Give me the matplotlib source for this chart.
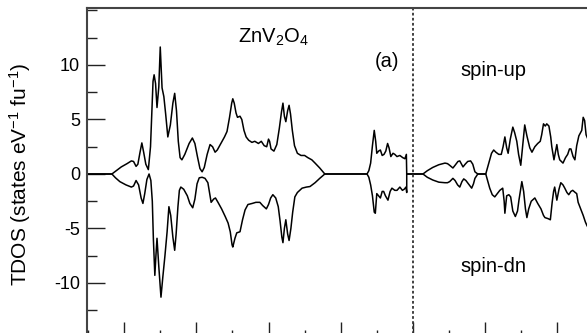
import matplotlib
matplotlib.use("Agg")
import matplotlib.pyplot as plt
from matplotlib.ticker import MultipleLocator

# Total DOS of ZnV2O4: (energy in eV relative to E_F, states/eV/f.u.)
spin_up = [
    (-9.03, 0.0), (-8.34, 0.0), (-8.22, 0.3), (-8.08, 0.65), (-7.92, 0.95),
    (-7.80, 1.2), (-7.74, 1.15), (-7.67, 0.7), (-7.62, 0.9), (-7.56, 2.0),
    (-7.51, 2.85), (-7.46, 2.0), (-7.40, 0.9), (-7.33, 0.4), (-7.27, 2.5),
    (-7.23, 6.0), (-7.20, 8.5), (-7.17, 9.1), (-7.13, 8.3), (-7.09, 6.1),
    (-7.04, 8.0), (-7.00, 11.65), (-6.97, 9.5), (-6.95, 7.9), (-6.90, 7.1),
    (-6.85, 5.5), (-6.79, 3.4), (-6.72, 4.5), (-6.65, 6.5), (-6.60, 7.4),
    (-6.55, 5.8), (-6.50, 3.0), (-6.45, 1.5), (-6.40, 1.3), (-6.32, 1.8),
    (-6.20, 2.8), (-6.11, 3.3), (-6.04, 2.8), (-5.97, 1.6), (-5.90, 0.5),
    (-5.84, 0.2), (-5.78, 0.6), (-5.70, 1.8), (-5.62, 2.7), (-5.55, 2.5),
    (-5.48, 2.0), (-5.42, 2.2), (-5.32, 2.8), (-5.22, 3.4), (-5.15, 3.9),
    (-5.08, 5.2), (-5.02, 6.5), (-4.99, 6.9), (-4.95, 6.5), (-4.90, 5.6),
    (-4.86, 5.2), (-4.79, 5.3), (-4.74, 5.0), (-4.68, 4.0), (-4.62, 3.4),
    (-4.55, 3.1), (-4.46, 2.9), (-4.38, 3.0), (-4.28, 2.8), (-4.20, 3.0),
    (-4.12, 2.6), (-4.05, 2.5), (-4.00, 3.2), (-3.97, 3.0), (-3.93, 2.3),
    (-3.85, 2.1), (-3.77, 2.7), (-3.70, 4.2), (-3.64, 5.7), (-3.60, 6.5),
    (-3.56, 5.3), (-3.52, 4.8), (-3.47, 5.8), (-3.43, 6.3), (-3.39, 5.5),
    (-3.34, 4.0), (-3.28, 2.6), (-3.20, 1.9), (-3.10, 1.7), (-3.00, 1.7),
    (-2.91, 1.5), (-2.80, 1.3), (-2.71, 1.0), (-2.58, 0.55), (-2.44, 0.0),
    (-1.27, 0.0), (-1.22, 0.3), (-1.17, 1.0), (-1.12, 2.6), (-1.07, 4.0),
    (-1.03, 3.0), (-1.00, 1.9), (-0.95, 2.1), (-0.90, 2.2), (-0.85, 1.7),
    (-0.80, 1.8), (-0.75, 2.1), (-0.70, 2.8), (-0.66, 2.4), (-0.61, 1.6),
    (-0.55, 1.9), (-0.50, 1.8), (-0.44, 1.6), (-0.36, 1.7), (-0.28, 1.5),
    (-0.22, 1.4), (-0.18, 1.8), (-0.17, 0.0),
    (0.28, 0.0), (0.40, 0.3), (0.55, 0.6), (0.72, 0.85), (0.89, 1.0),
    (0.96, 0.95), (1.02, 0.8), (1.11, 0.55), (1.17, 0.8), (1.25, 1.15),
    (1.30, 1.2), (1.35, 0.9), (1.39, 0.65), (1.45, 0.9), (1.52, 1.15),
    (1.60, 1.2), (1.66, 0.9), (1.72, 0.2), (1.80, 0.0), (2.02, 0.0),
    (2.08, 0.7), (2.13, 1.3), (2.18, 1.9), (2.24, 2.2), (2.30, 2.0),
    (2.38, 1.8), (2.45, 1.8), (2.50, 2.5), (2.55, 3.4), (2.60, 2.4),
    (2.64, 1.9), (2.70, 3.2), (2.77, 4.3), (2.82, 3.8), (2.88, 3.0),
    (2.93, 1.8), (2.99, 0.8), (3.04, 2.5), (3.10, 4.5), (3.16, 3.5),
    (3.24, 2.4), (3.30, 2.0), (3.38, 2.5), (3.46, 2.8), (3.53, 3.0),
    (3.57, 3.6), (3.62, 4.6), (3.67, 4.4), (3.71, 4.6), (3.77, 4.4),
    (3.82, 3.4), (3.85, 2.5), (3.91, 1.3), (3.96, 2.2), (3.99, 2.7),
    (4.03, 1.8), (4.07, 1.3), (4.16, 1.0), (4.23, 1.5), (4.29, 1.8),
    (4.34, 2.3), (4.38, 2.3), (4.44, 1.6), (4.49, 1.3), (4.54, 2.6),
    (4.60, 3.5), (4.68, 4.0), (4.72, 5.2), (4.76, 4.9), (4.80, 3.6),
    (4.90, 2.8),
]

spin_dn = [
    (-9.03, 0.0), (-8.34, 0.0), (-8.24, -0.35), (-8.12, -0.7), (-7.95, -1.0),
    (-7.80, -1.2), (-7.74, -1.1), (-7.67, -0.6), (-7.60, -1.0), (-7.53, -2.2),
    (-7.48, -2.7), (-7.43, -1.8), (-7.37, -0.5), (-7.31, 0.0), (-7.26, -0.6),
    (-7.22, -2.5), (-7.19, -6.0), (-7.15, -9.3), (-7.12, -7.5), (-7.09, -5.9),
    (-7.04, -8.5), (-6.98, -11.3), (-6.93, -9.5), (-6.87, -7.5), (-6.81, -5.3),
    (-6.76, -3.0), (-6.71, -3.8), (-6.65, -5.8), (-6.60, -7.0), (-6.56, -5.5),
    (-6.51, -3.0), (-6.47, -1.5), (-6.43, -1.2), (-6.35, -1.4), (-6.25, -2.0),
    (-6.18, -2.7), (-6.10, -3.1), (-6.04, -2.3), (-5.98, -0.9), (-5.92, -0.35),
    (-5.84, -0.3), (-5.76, -0.4), (-5.68, -0.8), (-5.63, -1.8), (-5.59, -2.6),
    (-5.52, -2.3), (-5.47, -2.2), (-5.40, -2.6), (-5.30, -3.2), (-5.20, -3.9),
    (-5.12, -4.5), (-5.06, -5.3), (-5.01, -6.5), (-4.99, -6.7), (-4.93, -5.9),
    (-4.88, -5.4), (-4.79, -5.3), (-4.72, -4.2), (-4.65, -3.3), (-4.57, -2.8),
    (-4.45, -2.7), (-4.35, -2.6), (-4.24, -2.6), (-4.16, -2.9), (-4.06, -3.2),
    (-4.00, -2.8), (-3.94, -2.2), (-3.88, -1.9), (-3.80, -2.2), (-3.73, -3.0),
    (-3.68, -4.3), (-3.63, -5.8), (-3.60, -6.3), (-3.56, -5.0), (-3.52, -4.2),
    (-3.47, -5.5), (-3.43, -6.1), (-3.38, -5.0), (-3.33, -3.5), (-3.27, -2.1),
    (-3.20, -1.7), (-3.07, -1.3), (-2.95, -1.2), (-2.85, -1.15), (-2.71, -0.8),
    (-2.58, -0.4), (-2.44, 0.0),
    (-1.27, 0.0), (-1.22, -0.3), (-1.17, -1.0), (-1.12, -2.0), (-1.07, -3.5),
    (-1.04, -3.6), (-1.00, -1.8), (-0.95, -2.0), (-0.90, -2.2), (-0.85, -1.6),
    (-0.81, -1.6), (-0.76, -2.0), (-0.69, -2.4), (-0.63, -1.6), (-0.58, -1.3),
    (-0.50, -1.5), (-0.44, -1.5), (-0.36, -1.2), (-0.29, -1.5), (-0.24, -1.4),
    (-0.19, -1.2), (-0.17, -1.7), (-0.17, 0.0),
    (0.28, 0.0), (0.40, -0.3), (0.55, -0.55), (0.72, -0.75), (0.89, -0.8),
    (0.96, -0.8), (1.02, -0.7), (1.11, -0.4), (1.17, -0.6), (1.24, -1.0),
    (1.30, -1.2), (1.36, -0.7), (1.41, -0.45), (1.47, -0.6), (1.56, -1.0),
    (1.63, -1.3), (1.68, -0.9), (1.72, -0.4), (1.80, 0.0), (2.02, 0.0),
    (2.08, -0.7), (2.13, -1.3), (2.20, -1.9), (2.27, -2.1), (2.34, -1.8),
    (2.41, -1.5), (2.49, -1.3), (2.53, -2.5), (2.55, -3.6), (2.60, -2.0),
    (2.66, -1.9), (2.71, -2.1), (2.77, -3.4), (2.84, -3.9), (2.90, -3.4),
    (2.94, -2.4), (3.02, -0.7), (3.07, -1.6), (3.12, -3.2), (3.16, -4.0),
    (3.21, -3.2), (3.28, -2.5), (3.38, -2.2), (3.46, -2.7), (3.55, -3.2),
    (3.62, -3.8), (3.66, -4.0), (3.75, -4.1), (3.81, -4.2), (3.86, -2.6),
    (3.90, -1.6), (3.93, -1.2), (3.97, -2.0), (3.99, -2.4), (4.05, -1.4),
    (4.10, -0.8), (4.16, -1.0), (4.21, -1.3), (4.27, -1.7), (4.32, -1.9),
    (4.38, -1.6), (4.43, -1.5), (4.50, -1.7), (4.54, -1.8), (4.58, -2.6),
    (4.65, -3.2), (4.72, -3.8), (4.78, -4.4), (4.82, -4.7), (4.90, -5.2),
]

y_ticks = [-10, -5, 0, 5, 10]

plt.rcParams["font.family"] = ["Liberation Sans", "DejaVu Sans"]
plt.rcParams["mathtext.default"] = "regular"
plt.rcParams["axes.unicode_minus"] = False

fig = plt.figure(figsize=(5.87, 3.33), dpi=100)
# the frame runs past the right and bottom edges of the figure
ax = fig.add_axes([0.1482, -0.021, 0.924, 0.997])

for curve in (spin_up, spin_dn):
    energy, dos = zip(*curve)
    ax.plot(energy, dos, color="black", lw=1.1,
            solid_joinstyle="round", solid_capstyle="round")

# Fermi level
ax.axvline(0, color="#333333", lw=1.3, ls=(0, (1.5, 1.3)))

ax.set_xlim(-9.03, 6.0)
ax.set_ylim(-15.23, 15.23)

ax.set_yticks(y_ticks)
ax.set_yticklabels([str(t) for t in y_ticks])
ax.yaxis.set_minor_locator(MultipleLocator(2.5))
ax.xaxis.set_major_locator(MultipleLocator(2))
ax.xaxis.set_minor_locator(MultipleLocator(1))

ax.tick_params(which="both", direction="in", color="#222222", width=1.0,
               labelsize=13, top=False, right=False, labelbottom=False, pad=5)
ax.tick_params(which="major", length=13)
ax.tick_params(which="minor", length=7)

for spine in ax.spines.values():
    spine.set_color("#444444")
    spine.set_linewidth(1.5)

ax.set_ylabel("TDOS (states eV$^{-1}$ fu$^{-1}$)", fontsize=15)
ax.yaxis.set_label_coords(-0.0995, 0.5)

ax.text(-4.85, 12.0, "ZnV$_2$O$_4$", fontsize=14.5, ha="left", va="baseline")
ax.text(-0.72, 10.3, "(a)", fontsize=14.5, ha="center", va="center")
ax.text(2.24, 9.0, "spin-up", fontsize=14.5, ha="center", va="baseline")
ax.text(2.24, -9.0, "spin-dn", fontsize=14.5, ha="center", va="baseline")

fig.savefig("out.png", dpi=100)
